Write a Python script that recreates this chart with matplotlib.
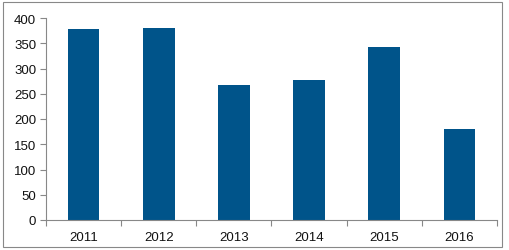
import matplotlib
matplotlib.use("Agg")
import matplotlib.pyplot as plt
from matplotlib.patches import Rectangle

years = ["2011", "2012", "2013", "2014", "2015", "2016"]
values = [378, 381, 268, 277, 343, 180]
yticks = [0, 50, 100, 150, 200, 250, 300, 350, 400]

W, H = 509, 251
fig = plt.figure(figsize=(W / 100, H / 100), dpi=100)
plt.rcParams['font.family'] = ['Liberation Sans', 'DejaVu Sans']

ax = fig.add_axes([46 / W, 30 / H, (497 - 46) / W, (221 - 19) / H])
x = list(range(len(years)))
ax.bar(x, values, width=0.42, color="#00548A", zorder=2)
ax.set_xlim(-0.5, len(years) - 0.5)
ax.set_ylim(0, 400)
ax.set_yticks(yticks)
ax.set_yticklabels([str(v) for v in yticks], fontsize=9.5, color="#111111")
ax.set_xticks(x)
ax.set_xticklabels(years, fontsize=9.5, color="#111111")
ax.tick_params(axis='x', length=0, pad=8)
ax.set_xticks([i - 0.5 for i in range(len(years) + 1)], minor=True)
ax.tick_params(axis='x', which='minor', length=4, direction='out', color="#888888", width=0.8)
ax.tick_params(axis='y', length=4, direction='out', color="#888888", width=0.8, pad=3)
for s in ["top", "right"]:
    ax.spines[s].set_visible(False)
for s in ["left", "bottom"]:
    ax.spines[s].set_color("#888888")
    ax.spines[s].set_linewidth(0.8)

fig.patches.append(Rectangle((3 / W, 3 / H), (502 - 3) / W, (248 - 3) / H,
                             transform=fig.transFigure, fill=False,
                             edgecolor="#888888", linewidth=0.8))
fig.savefig("out.png", dpi=100)
